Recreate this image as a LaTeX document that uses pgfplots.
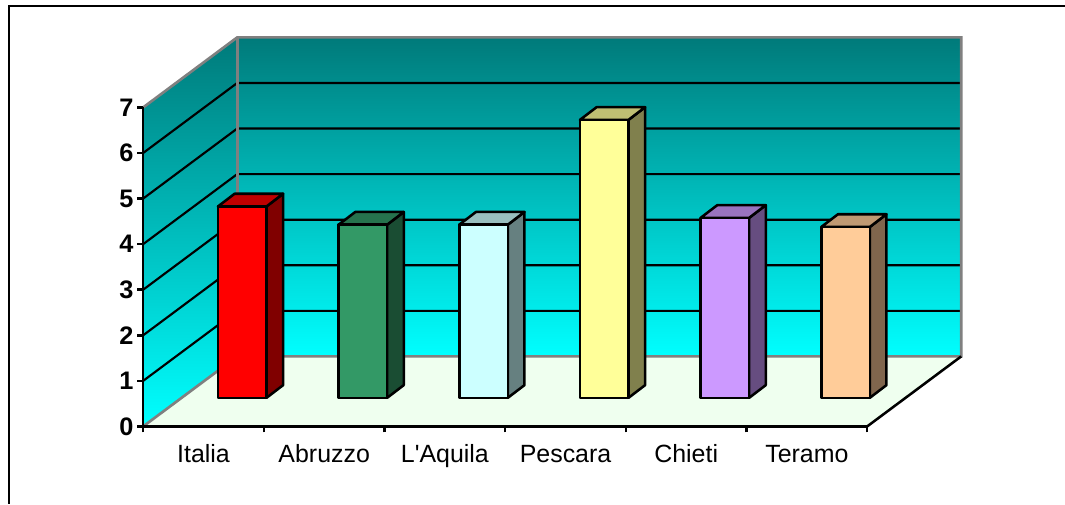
\documentclass[border=0pt]{standalone}
\usepackage{pgfplots}
\pgfplotsset{compat=1.18}
\usepackage{fontspec}
\setmainfont{Liberation Sans}
\newfontfamily\plainsans{Liberation Sans}

% bar colours: front, side and top faces
\definecolor{barA}{HTML}{FF0000}\definecolor{barAs}{HTML}{800000}\definecolor{barAt}{HTML}{C00000}
\definecolor{barB}{HTML}{339966}\definecolor{barBs}{HTML}{1A4D33}\definecolor{barBt}{HTML}{26734D}
\definecolor{barC}{HTML}{CCFFFF}\definecolor{barCs}{HTML}{668080}\definecolor{barCt}{HTML}{99BFBF}
\definecolor{barD}{HTML}{FFFF99}\definecolor{barDs}{HTML}{80804D}\definecolor{barDt}{HTML}{BFBF73}
\definecolor{barE}{HTML}{CC99FF}\definecolor{barEs}{HTML}{664D80}\definecolor{barEt}{HTML}{9973BF}
\definecolor{barF}{HTML}{FFCC99}\definecolor{barFs}{HTML}{80664D}\definecolor{barFt}{HTML}{BF9973}
\definecolor{wallTop}{RGB}{0,122,122}
\definecolor{wallBottom}{RGB}{0,255,255}
\definecolor{floorGreen}{HTML}{EFFFEF}

% one column: category position, value, colour prefix
\newcommand{\column}[3]{%
  \pgfmathsetmacro{\xl}{#1-0.201}%
  \pgfmathsetmacro{\xr}{#1+0.201}%
  \pgfmathsetmacro{\xlb}{\xl+0.138}%
  \pgfmathsetmacro{\xrb}{\xr+0.138}%
  \pgfmathsetmacro{\vb}{#2+0.279}%
  \addplot[draw=black,line width=1.9pt,line join=round,fill=#3s] coordinates {(\xr,0) (\xrb,0.279) (\xrb,\vb) (\xr,#2)} -- cycle;
  \addplot[draw=black,line width=1.9pt,line join=round,fill=#3t] coordinates {(\xl,#2) (\xlb,\vb) (\xrb,\vb) (\xr,#2)} -- cycle;
  \addplot[ybar,bar shift=0pt,bar width=0.402,draw=black,line width=1.9pt,line join=round,fill=#3] coordinates {(#1,#2)};
}

\begin{document}
\begin{tikzpicture}[x=0.75pt,y=0.75pt]
\path[use as bounding box] (0,0) rectangle (1065,504);
% outer frame: only the top and left edges are inside the page
\draw[black,line width=1.9pt] (1065,498) -- (9,498) -- (9,0);

\begin{axis}[
  at={(107.4pt,58.2pt)},anchor=south west,
  scale only axis,width=543pt,height=239.25pt,
  xmin=0,xmax=6,ymin=0,ymax=7,
  clip=false,axis on top,
  axis x line*=bottom,axis y line*=left,
  axis line style={black,line width=1.9pt,-},
  xtick={0.5,1.5,2.5,3.5,4.5,5.5},
  xticklabels={Italia,Abruzzo,L'Aquila,Pescara,Chieti,Teramo},
  minor xtick={0,1,2,3,4,5,6},
  ytick={0,1,2,3,4,5,6,7},
  tick align=outside,
  major tick length=4.5pt,minor tick length=4.5pt,
  major x tick style={draw=none},
  minor x tick style={black,line width=1.9pt},
  ytick style={black,line width=1.9pt},
  /pgf/number format/assume math mode=true,
  xticklabel style={font=\plainsans\fontsize{18.7}{22}\selectfont,text=black,text height=13pt,text depth=4pt,yshift=-6pt},
  yticklabel style={font=\fontsize{19}{22}\selectfont\bfseries,xshift=0.8pt},
]
% back wall and side wall with their vertical shading
\addplot[draw=none,top color=wallTop,bottom color=wallBottom]
  coordinates {(0.779,1.536) (6.779,1.536) (6.779,8.536) (0.779,8.536)} -- cycle;
\addplot[draw=none,top color=wallTop,bottom color=wallBottom]
  coordinates {(0,0) (0.779,1.536) (0.779,8.536) (0,7)} -- cycle;
% floor
\addplot[draw=none,fill=floorGreen]
  coordinates {(0,0) (6,0) (6.779,1.536) (0.779,1.536)} -- cycle;
% gridlines running across the side wall and the back wall
\addplot[black,line width=1.6pt] coordinates {(0,1) (0.779,2.536) (6.779,2.536)};
\addplot[black,line width=1.6pt] coordinates {(0,2) (0.779,3.536) (6.779,3.536)};
\addplot[black,line width=1.6pt] coordinates {(0,3) (0.779,4.536) (6.779,4.536)};
\addplot[black,line width=1.6pt] coordinates {(0,4) (0.779,5.536) (6.779,5.536)};
\addplot[black,line width=1.6pt] coordinates {(0,5) (0.779,6.536) (6.779,6.536)};
\addplot[black,line width=1.6pt] coordinates {(0,6) (0.779,7.536) (6.779,7.536)};
% grey wall outlines
\addplot[gray,line width=2pt] coordinates {(0,7) (0.779,8.536) (6.779,8.536) (6.779,1.536) (0.779,1.536) (0,0)};
\addplot[gray,line width=2pt] coordinates {(0.779,1.536) (0.779,8.536)};
% right edge of the floor
\addplot[black,line width=1.9pt] coordinates {(6,0) (6.779,1.536)};
\end{axis}

% columns stand part way back on the floor
\begin{axis}[
  at={(136.4pt,79.6pt)},anchor=south west,
  scale only axis,width=543pt,height=239.25pt,
  xmin=0,xmax=6,ymin=0,ymax=7,
  clip=false,hide axis,
]
\column{0.5}{4.2}{barA}
\column{1.5}{3.8}{barB}
\column{2.5}{3.8}{barC}
\column{3.5}{6.1}{barD}
\column{4.5}{3.95}{barE}
\column{5.5}{3.75}{barF}
\end{axis}
\end{tikzpicture}
\end{document}
